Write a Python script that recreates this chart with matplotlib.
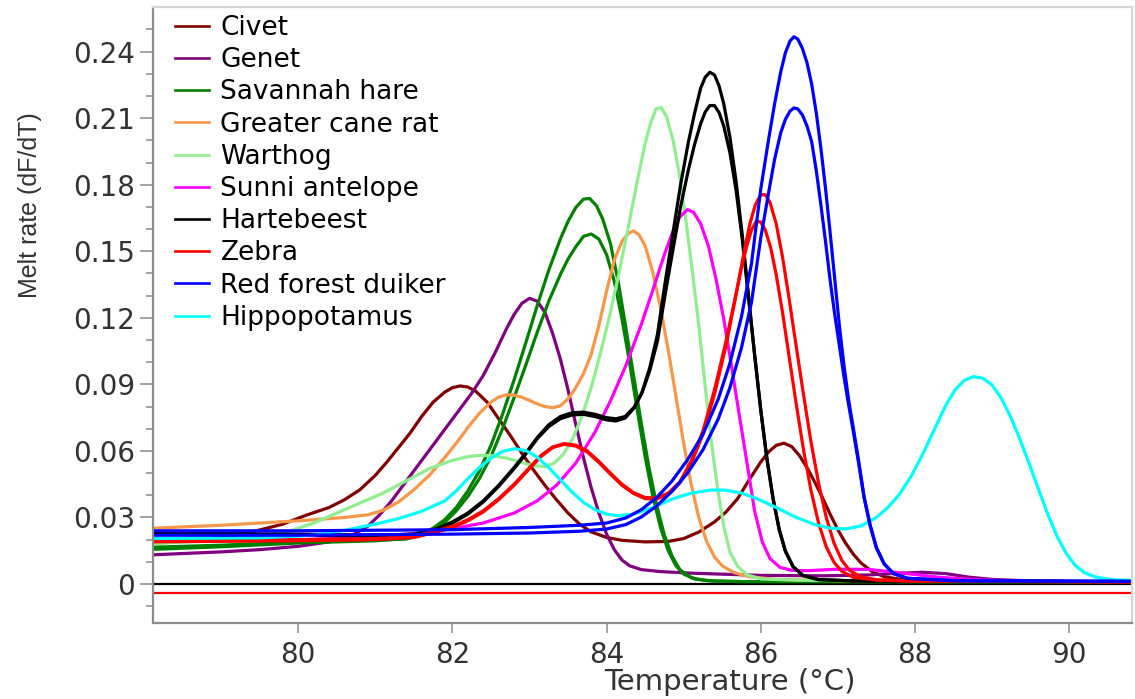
"""Overlay of HRM melt curves (derivative) for ten bushmeat species."""

from __future__ import annotations

import matplotlib

matplotlib.use("Agg")
import matplotlib.pyplot as plt
from matplotlib import font_manager
from matplotlib.lines import Line2D
from matplotlib.ticker import FixedLocator

SPECIES = [
    "Civet",
    "Genet",
    "Savannah hare",
    "Greater cane rat",
    "Warthog",
    "Sunni antelope",
    "Hartebeest",
    "Zebra",
    "Red forest duiker",
    "Hippopotamus",
]
SPECIES_COLORS = {
    "Civet": "#800000",
    "Genet": "#800080",
    "Savannah hare": "#008000",
    "Greater cane rat": "#f7974a",
    "Warthog": "#90ee90",
    "Sunni antelope": "#ff00ff",
    "Hartebeest": "#000000",
    "Zebra": "#ff0000",
    "Red forest duiker": "#0000ff",
    "Hippopotamus": "#00ffff",
}

Y_TICKS = [0.0, 0.03, 0.06, 0.09, 0.12, 0.15, 0.18, 0.21, 0.24]
Y_TICK_LABELS = ["0", "0.03", "0.06", "0.09", "0.12", "0.15", "0.18", "0.21", "0.24"]
X_TICKS = [80, 82, 84, 86, 88, 90]

# reference traces under the curves: no-template control and threshold
NTC_LEVEL = 0.0
THRESHOLD_LEVEL = -0.0042

# -- melt rate (dF/dT) against temperature, one pair of lists per trace --
civet_t = [78.0, 78.5, 79.0, 79.4, 79.8, 80.1, 80.4, 80.6, 80.8, 81.0, 81.15, 81.3, 81.45,
           81.6, 81.75, 81.9, 82.0, 82.1, 82.2, 82.3, 82.45, 82.6, 82.75, 82.9, 83.05, 83.2,
           83.35, 83.5, 83.65, 83.8, 84.0, 84.2, 84.5, 84.8, 85.0, 85.2, 85.4, 85.55, 85.7,
           85.85, 86.0, 86.1, 86.2, 86.3, 86.4, 86.5, 86.6, 86.7, 86.8, 86.9, 87.0, 87.1,
           87.2, 87.3, 87.45, 87.6, 87.8, 88.2, 89.0, 90.9]
civet_v = [0.018, 0.0193, 0.021, 0.0235, 0.027, 0.031, 0.0345, 0.038, 0.0425, 0.049, 0.055,
           0.0615, 0.068, 0.0755, 0.082, 0.0865, 0.0885, 0.0893, 0.0888, 0.087, 0.082, 0.0745,
           0.067, 0.059, 0.0515, 0.0445, 0.038, 0.032, 0.027, 0.0235, 0.021, 0.0197, 0.019,
           0.0192, 0.0205, 0.0235, 0.028, 0.0325, 0.0385, 0.047, 0.055, 0.0595, 0.0625,
           0.0635, 0.062, 0.058, 0.0525, 0.046, 0.039, 0.0315, 0.0245, 0.0185, 0.0135,
           0.0095, 0.0055, 0.0033, 0.0022, 0.0016, 0.0012, 0.001]

genet_t = [78.0, 79.0, 79.5, 80.0, 80.4, 80.7, 80.9, 81.05, 81.2, 81.35, 81.5, 81.65, 81.8,
           81.95, 82.1, 82.25, 82.4, 82.55, 82.7, 82.8, 82.9, 83.0, 83.1, 83.2, 83.3, 83.4,
           83.5, 83.6, 83.7, 83.8, 83.9, 84.0, 84.1, 84.2, 84.3, 84.45, 84.7, 85.1, 86.0,
           86.8, 87.4, 87.8, 88.1, 88.4, 88.7, 89.0, 89.4, 90.0, 90.9]
genet_v = [0.013, 0.0145, 0.0155, 0.017, 0.019, 0.022, 0.026, 0.031, 0.037, 0.044, 0.051,
           0.058, 0.065, 0.072, 0.079, 0.086, 0.094, 0.104, 0.115, 0.1215, 0.1265, 0.1288,
           0.1275, 0.1225, 0.113, 0.1015, 0.0875, 0.072, 0.057, 0.0435, 0.032, 0.0225,
           0.0155, 0.0108, 0.0082, 0.0065, 0.0056, 0.0049, 0.0039, 0.0037, 0.0041, 0.0049,
           0.0053, 0.0047, 0.0031, 0.0021, 0.0015, 0.0011, 0.001]

hare_a_t = [78.0, 79.0, 80.0, 81.0, 81.4, 81.6, 81.75, 81.9, 82.05, 82.2, 82.35, 82.5, 82.65,
            82.8, 82.95, 83.1, 83.25, 83.4, 83.5, 83.6, 83.7, 83.78, 83.87, 83.95, 84.05,
            84.15, 84.25, 84.35, 84.45, 84.55, 84.65, 84.75, 84.85, 84.95, 85.1, 85.3, 85.7,
            90.9]
hare_a_v = [0.0155, 0.0168, 0.0185, 0.0195, 0.0205, 0.0225, 0.0252, 0.029, 0.0345, 0.042,
            0.051, 0.0625, 0.0765, 0.092, 0.1085, 0.1255, 0.1415, 0.1555, 0.1635, 0.1697,
            0.1735, 0.1738, 0.1705, 0.1645, 0.1535, 0.1365, 0.1155, 0.094, 0.0725, 0.0525,
            0.0355, 0.022, 0.0125, 0.0065, 0.0028, 0.0015, 0.0011, 0.001]
hare_b_t = [78.0, 79.0, 80.0, 81.0, 81.4, 81.6, 81.75, 81.9, 82.05, 82.2, 82.35, 82.5, 82.65,
            82.8, 82.95, 83.1, 83.25, 83.4, 83.5, 83.6, 83.7, 83.8, 83.9, 84.0, 84.1, 84.2,
            84.3, 84.4, 84.5, 84.6, 84.7, 84.8, 84.9, 85.0, 85.15, 85.4, 85.8, 90.9]
hare_b_v = [0.0165, 0.0175, 0.019, 0.0198, 0.0203, 0.022, 0.0243, 0.0278, 0.033, 0.0395,
            0.0475, 0.0575, 0.07, 0.084, 0.0985, 0.1135, 0.1275, 0.1395, 0.1465, 0.152,
            0.1567, 0.1578, 0.1555, 0.1485, 0.1365, 0.1195, 0.0995, 0.078, 0.0575, 0.0395,
            0.0255, 0.015, 0.0082, 0.0045, 0.0022, 0.0013, 0.0011, 0.001]

canerat_t = [78.0, 79.0, 80.0, 80.6, 80.9, 81.1, 81.3, 81.5, 81.7, 81.9, 82.05, 82.2, 82.35,
             82.5, 82.6, 82.7, 82.8, 82.9, 83.0, 83.1, 83.2, 83.3, 83.4, 83.5, 83.6, 83.7,
             83.8, 83.9, 84.0, 84.1, 84.2, 84.28, 84.35, 84.42, 84.5, 84.6, 84.7, 84.8, 84.9,
             85.0, 85.1, 85.2, 85.3, 85.4, 85.5, 85.65, 85.85, 86.2, 87.0, 90.9]
canerat_v = [0.025, 0.0265, 0.0285, 0.030, 0.0312, 0.0332, 0.037, 0.0425, 0.049, 0.057,
             0.0635, 0.0705, 0.077, 0.082, 0.0843, 0.0853, 0.0852, 0.0842, 0.0828, 0.0812,
             0.080, 0.0795, 0.0803, 0.0835, 0.0885, 0.0948, 0.1035, 0.1165, 0.132, 0.146,
             0.1545, 0.158, 0.1592, 0.1575, 0.1525, 0.1405, 0.1245, 0.1055, 0.0845, 0.0635,
             0.0445, 0.0295, 0.019, 0.0122, 0.0082, 0.0052, 0.0033, 0.0021, 0.0015, 0.001]

warthog_t = [78.0, 79.0, 79.5, 79.9, 80.2, 80.5, 80.8, 81.1, 81.4, 81.7, 82.0, 82.2, 82.35,
             82.5, 82.7, 82.9, 83.05, 83.2, 83.32, 83.44, 83.56, 83.68, 83.8, 83.92, 84.04,
             84.16, 84.28, 84.4, 84.5, 84.57, 84.64, 84.71, 84.78, 84.86, 84.94, 85.02, 85.1,
             85.19, 85.28, 85.36, 85.44, 85.52, 85.6, 85.7, 85.82, 86.0, 86.5, 90.9]
warthog_v = [0.018, 0.0198, 0.0215, 0.024, 0.0275, 0.032, 0.0365, 0.041, 0.0465, 0.052,
             0.0558, 0.0574, 0.058, 0.0579, 0.0568, 0.0548, 0.0533, 0.053, 0.0545, 0.0585,
             0.0655, 0.0755, 0.0885, 0.104, 0.121, 0.140, 0.1605, 0.182, 0.1985, 0.2075,
             0.2142, 0.2148, 0.2105, 0.2005, 0.1855, 0.1665, 0.1445, 0.1185, 0.089, 0.064,
             0.043, 0.026, 0.0145, 0.008, 0.0042, 0.0023, 0.0017, 0.001]

sunni_t = [78.0, 80.0, 81.0, 81.7, 82.0, 82.4, 82.8, 83.1, 83.35, 83.6, 83.85, 84.05, 84.25,
           84.45, 84.6, 84.75, 84.85, 84.95, 85.05, 85.13, 85.22, 85.32, 85.42, 85.52, 85.62,
           85.72, 85.82, 85.92, 86.02, 86.12, 86.25, 86.4, 86.6, 87.0, 87.4, 87.85, 88.3,
           88.8, 89.5, 90.9]
sunni_v = [0.0195, 0.020, 0.021, 0.0235, 0.025, 0.0275, 0.032, 0.0375, 0.0445, 0.0545,
           0.0685, 0.0825, 0.0985, 0.117, 0.1325, 0.1485, 0.158, 0.1655, 0.1688, 0.1675,
           0.1625, 0.1525, 0.1375, 0.1195, 0.0985, 0.0765, 0.055, 0.033, 0.019, 0.0115,
           0.0075, 0.0062, 0.006, 0.0067, 0.0066, 0.0049, 0.0031, 0.0019, 0.0013, 0.001]

hartebeest_t = [78.0, 80.0, 81.0, 81.5, 81.8, 82.0, 82.2, 82.4, 82.6, 82.8, 82.95, 83.1,
                83.25, 83.4, 83.55, 83.7, 83.85, 84.0, 84.12, 84.24, 84.36, 84.46, 84.56,
                84.66, 84.76, 84.86, 84.96, 85.06, 85.14, 85.22, 85.28, 85.34, 85.4, 85.46,
                85.52, 85.6, 85.68, 85.76, 85.84, 85.92, 86.0, 86.08, 86.16, 86.24, 86.32,
                86.42, 86.55, 86.75, 87.2, 90.9]
hartebeest_a_v = [0.0225, 0.022, 0.0215, 0.022, 0.0245, 0.0275, 0.0315, 0.037, 0.044, 0.052,
                  0.0585, 0.0655, 0.071, 0.0745, 0.0762, 0.0765, 0.0755, 0.074, 0.0735,
                  0.0748, 0.0795, 0.0865, 0.0975, 0.1125, 0.136, 0.158, 0.180, 0.199, 0.212,
                  0.2235, 0.2285, 0.2307, 0.2295, 0.2245, 0.2165, 0.2015, 0.1815, 0.1575,
                  0.1305, 0.1035, 0.0785, 0.0565, 0.0385, 0.0245, 0.0148, 0.0078, 0.0038,
                  0.002, 0.0014, 0.001]
hartebeest_b_v = [0.023, 0.0225, 0.022, 0.0225, 0.025, 0.028, 0.032, 0.0375, 0.0445, 0.0525,
                  0.059, 0.066, 0.0718, 0.0755, 0.0772, 0.0775, 0.0765, 0.075, 0.0745,
                  0.0755, 0.0798, 0.0862, 0.0962, 0.1095, 0.1305, 0.1505, 0.170, 0.1865,
                  0.198, 0.2075, 0.2128, 0.2157, 0.2157, 0.2125, 0.2065, 0.1945, 0.1775,
                  0.1555, 0.1295, 0.1035, 0.0785, 0.0565, 0.0385, 0.0245, 0.0148, 0.0078,
                  0.0038, 0.002, 0.0014, 0.001]

zebra_a_t = [78.0, 80.0, 81.0, 81.5, 81.8, 82.0, 82.2, 82.4, 82.6, 82.8, 83.0, 83.15, 83.3,
             83.45, 83.6, 83.75, 83.9, 84.05, 84.2, 84.35, 84.5, 84.65, 84.8, 84.95, 85.1,
             85.25, 85.4, 85.55, 85.68, 85.78, 85.86, 85.93, 86.0, 86.06, 86.12, 86.2, 86.28,
             86.36, 86.45, 86.55, 86.65, 86.75, 86.85, 86.95, 87.05, 87.15, 87.3, 87.5, 88.0,
             90.9]
zebra_a_v = [0.019, 0.0195, 0.020, 0.021, 0.0235, 0.0255, 0.0285, 0.0325, 0.038, 0.0445,
             0.052, 0.0575, 0.0615, 0.063, 0.0622, 0.0595, 0.0548, 0.0495, 0.0445, 0.0408,
             0.0385, 0.0383, 0.0405, 0.0455, 0.0545, 0.0675, 0.0855, 0.1075, 0.1305, 0.149,
             0.1625, 0.171, 0.1755, 0.1755, 0.172, 0.1625, 0.148, 0.1305, 0.1095, 0.0865,
             0.0645, 0.0455, 0.030, 0.0185, 0.0108, 0.0062, 0.0032, 0.0019, 0.0013, 0.001]
zebra_b_t = [78.0, 80.0, 81.0, 81.5, 81.8, 82.0, 82.2, 82.4, 82.6, 82.8, 83.0, 83.15, 83.3,
             83.45, 83.6, 83.75, 83.9, 84.05, 84.2, 84.35, 84.5, 84.65, 84.8, 84.95, 85.1,
             85.25, 85.4, 85.55, 85.66, 85.75, 85.82, 85.88, 85.94, 86.0, 86.06, 86.13, 86.2,
             86.28, 86.36, 86.45, 86.55, 86.65, 86.75, 86.85, 86.95, 87.05, 87.2, 87.5, 88.0,
             90.9]
zebra_b_v = [0.0195, 0.020, 0.0205, 0.0215, 0.024, 0.026, 0.029, 0.033, 0.0385, 0.045,
             0.0525, 0.058, 0.0618, 0.0633, 0.0626, 0.060, 0.0553, 0.050, 0.045, 0.0412,
             0.039, 0.0388, 0.041, 0.046, 0.0555, 0.069, 0.0875, 0.1095, 0.1275, 0.1425,
             0.1525, 0.1595, 0.1635, 0.1632, 0.1595, 0.1515, 0.1395, 0.123, 0.1045, 0.0835,
             0.0615, 0.0425, 0.0275, 0.0168, 0.0098, 0.0058, 0.003, 0.0018, 0.0013, 0.001]

duiker_t = [78.0, 80.0, 82.0, 83.0, 83.65, 84.0, 84.25, 84.45, 84.65, 84.85, 85.05, 85.25,
            85.45, 85.6, 85.75, 85.88, 86.0, 86.1, 86.18, 86.26, 86.32, 86.38, 86.43, 86.48,
            86.54, 86.6, 86.66, 86.72, 86.78, 86.84, 86.9, 86.96, 87.02, 87.08, 87.14, 87.2,
            87.27, 87.34, 87.42, 87.5, 87.6, 87.72, 87.9, 88.5, 90.9]
duiker_a_v = [0.024, 0.024, 0.0245, 0.0255, 0.0265, 0.0275, 0.0298, 0.0335, 0.039, 0.0465,
              0.056, 0.0675, 0.0835, 0.0995, 0.1205, 0.1445, 0.178, 0.200, 0.2165, 0.231,
              0.2395, 0.2448, 0.2467, 0.2457, 0.2415, 0.235, 0.2255, 0.2125, 0.1965, 0.1785,
              0.1585, 0.1375, 0.1165, 0.0985, 0.083, 0.0705, 0.0555, 0.0395, 0.0265, 0.0165,
              0.0092, 0.0048, 0.0026, 0.0015, 0.0012]
duiker_b_v = [0.022, 0.022, 0.0225, 0.023, 0.0238, 0.0248, 0.0268, 0.0302, 0.0352, 0.0418,
              0.050, 0.0605, 0.0745, 0.0885, 0.1065, 0.127, 0.156, 0.176, 0.1915, 0.2035,
              0.2095, 0.2132, 0.2146, 0.2142, 0.2115, 0.2065, 0.1995, 0.1865, 0.171, 0.1545,
              0.137, 0.1215, 0.1075, 0.0935, 0.0808, 0.069, 0.0545, 0.039, 0.0262, 0.0163,
              0.0091, 0.0047, 0.0026, 0.0015, 0.0012]

hippo_t = [78.0, 79.5, 80.2, 80.6, 81.0, 81.3, 81.6, 81.9, 82.05, 82.2, 82.35, 82.5, 82.65,
           82.8, 82.95, 83.1, 83.25, 83.4, 83.55, 83.7, 83.85, 84.0, 84.15, 84.35, 84.6,
           84.85, 85.1, 85.35, 85.55, 85.75, 85.95, 86.2, 86.45, 86.7, 86.9, 87.1, 87.3,
           87.5, 87.65, 87.8, 87.95, 88.1, 88.25, 88.4, 88.52, 88.64, 88.76, 88.88, 89.0,
           89.12, 89.24, 89.36, 89.48, 89.6, 89.72, 89.84, 89.96, 90.08, 90.2, 90.36, 90.55,
           90.9]
hippo_v = [0.0205, 0.0208, 0.022, 0.0242, 0.027, 0.0295, 0.0328, 0.0375, 0.042, 0.0475,
           0.0525, 0.0568, 0.0598, 0.061, 0.0602, 0.0572, 0.0525, 0.047, 0.0415, 0.0368,
           0.0335, 0.0315, 0.0308, 0.0315, 0.0345, 0.0383, 0.041, 0.0424, 0.0423, 0.041,
           0.0385, 0.0345, 0.0302, 0.0268, 0.0252, 0.0248, 0.0262, 0.030, 0.0345, 0.0405,
           0.0485, 0.0585, 0.0695, 0.0805, 0.0875, 0.0918, 0.0935, 0.0928, 0.0898, 0.0838,
           0.0755, 0.0655, 0.0545, 0.043, 0.0318, 0.0218, 0.014, 0.0084, 0.0051, 0.003,
           0.002, 0.0015]

TRACES = [
    ("Civet", civet_t, civet_v),
    ("Genet", genet_t, genet_v),
    ("Savannah hare", hare_a_t, hare_a_v),
    ("Savannah hare", hare_b_t, hare_b_v),
    ("Greater cane rat", canerat_t, canerat_v),
    ("Warthog", warthog_t, warthog_v),
    ("Sunni antelope", sunni_t, sunni_v),
    ("Hartebeest", hartebeest_t, hartebeest_a_v),
    ("Hartebeest", hartebeest_t, hartebeest_b_v),
    ("Zebra", zebra_a_t, zebra_a_v),
    ("Zebra", zebra_b_t, zebra_b_v),
    ("Hippopotamus", hippo_t, hippo_v),
    ("Red forest duiker", duiker_t, duiker_a_v),
    ("Red forest duiker", duiker_t, duiker_b_v),
]

AXIS_GRAY = "#8c8c8c"
FRAME_GRAY = "#d6d6d6"
TEXT_GRAY = "#333333"


def narrow_family() -> str:
    """Pick a condensed face for the y label when one is installed."""
    names = {entry.name for entry in font_manager.fontManager.ttflist}
    for candidate in ("Liberation Sans Narrow", "Liberation Sans", "DejaVu Sans"):
        if candidate in names:
            return candidate
    return "DejaVu Sans"


def main() -> int:
    plt.rcParams["font.family"] = ["DejaVu Sans"]

    figure = plt.figure(figsize=(11.35, 6.99), dpi=100)
    axis = figure.add_axes([0.1351, 0.1083, 0.8625, 0.8813])

    axis.axhline(NTC_LEVEL, color="#000000", lw=1.6, zorder=1)
    axis.axhline(THRESHOLD_LEVEL, color="#ff0000", lw=1.6, zorder=1)

    for name, temps, rates in TRACES:
        axis.plot(temps, rates, color=SPECIES_COLORS[name], lw=2.3,
                  solid_joinstyle="round", solid_capstyle="round", zorder=2)

    axis.set_xlim(78.12, 90.82)
    axis.set_ylim(-0.0177, 0.26)

    axis.yaxis.set_major_locator(FixedLocator(Y_TICKS))
    axis.set_yticklabels(Y_TICK_LABELS)
    axis.yaxis.set_minor_locator(FixedLocator([i / 100 for i in range(-1, 26)]))
    axis.set_xticks(X_TICKS)
    axis.set_xticklabels([str(t) for t in X_TICKS])

    axis.tick_params(axis="y", which="major", length=9.5, width=1.1, color=AXIS_GRAY,
                     pad=3.5, labelsize=20, labelcolor=TEXT_GRAY)
    axis.tick_params(axis="y", which="minor", length=5, width=1.1, color=AXIS_GRAY)
    axis.tick_params(axis="x", which="major", length=7.5, width=1.1, color=AXIS_GRAY,
                     pad=5, labelsize=20, labelcolor=TEXT_GRAY)

    for side in ("left", "bottom"):
        axis.spines[side].set_color(AXIS_GRAY)
        axis.spines[side].set_linewidth(1.6)
    for side in ("top", "right"):
        axis.spines[side].set_color(FRAME_GRAY)
        axis.spines[side].set_linewidth(1.6)

    handles = [Line2D([], [], color=SPECIES_COLORS[name], lw=1.9) for name in SPECIES]
    axis.legend(handles, SPECIES, loc="upper left",
                bbox_to_anchor=(175 / 1135, 1 - 15 / 699),
                bbox_transform=figure.transFigure, frameon=False, fontsize=19,
                handlelength=1.27, handletextpad=0.45, labelspacing=0.235,
                borderpad=0, borderaxespad=0)

    figure.text(30 / 1135, 1 - 205 / 699, "Melt rate (dF/dT)", rotation=90,
                ha="center", va="center", fontsize=18, family=narrow_family(),
                color=TEXT_GRAY)
    figure.text(730 / 1135, 1 - 690 / 699, "Temperature (°C)", ha="center",
                va="baseline", fontsize=21, color=TEXT_GRAY)

    figure.savefig("out.png", dpi=100)
    plt.close(figure)
    return 0


if __name__ == "__main__":
    raise SystemExit(main())
